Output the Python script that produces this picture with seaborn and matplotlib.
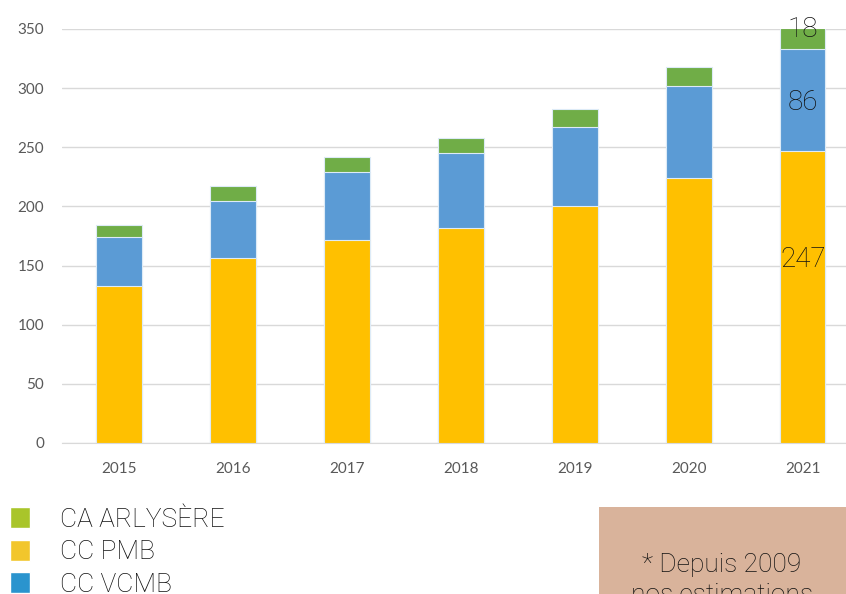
import matplotlib
matplotlib.use("Agg")
import matplotlib.pyplot as plt
from matplotlib.patches import Patch, Rectangle
import pandas as pd
import seaborn as sns

# values
years = ["2015", "2016", "2017", "2018", "2019", "2020", "2021"]
cc_pmb = [133, 156, 172, 182, 200, 224, 247]
cc_vcmb = [41, 49, 57, 63, 67, 78, 86]
ca_arlysere = [10, 12, 13, 13, 15, 16, 18]
legend_labels = ["CA ARLYSÈRE", "CC PMB", "CC VCMB"]
legend_colors = ["#A9C52A", "#F2C62C", "#2A94CE"]
note_lines = ["* Depuis 2009", "nos estimations"]

df = pd.DataFrame({"year": years, "pmb": cc_pmb, "vcmb": cc_vcmb, "arly": ca_arlysere})
df["pmb_vcmb"] = df["pmb"] + df["vcmb"]
df["total"] = df["pmb_vcmb"] + df["arly"]

sns.set_style("white")
plt.rcParams["font.family"] = ["Lato", "DejaVu Sans"]
thin = ["Roboto", "DejaVu Sans"]

fig = plt.figure(figsize=(8.46, 5.94), dpi=100)
ax = fig.add_axes([62 / 846, 151 / 594, 784 / 846, 414 / 594])

# stacked bars drawn as overlaid cumulative bars
bar_kw = dict(width=0.4, saturation=1, edgecolor="#DDEBF7", linewidth=0.8, ax=ax, zorder=3)
sns.barplot(data=df, x="year", y="total", color="#70AD47", **bar_kw)
sns.barplot(data=df, x="year", y="pmb_vcmb", color="#5B9BD5", **bar_kw)
sns.barplot(data=df, x="year", y="pmb", color="#FFC000", **bar_kw)

ax.set_xlim(-0.5, 6.38)
ax.set_ylim(0, 350)
ax.set_yticks(range(0, 351, 50))
ax.set_xlabel("")
ax.set_ylabel("")
ax.grid(axis="y", color="#D9D9D9", linewidth=1)
ax.set_axisbelow(True)
for s in ["top", "right", "left"]:
    ax.spines[s].set_visible(False)
ax.spines["bottom"].set_color("#D9D9D9")
ax.tick_params(axis="both", length=0, labelsize=11, labelcolor="#595959")
ax.tick_params(axis="y", pad=13)
ax.tick_params(axis="x", pad=14)

# data labels on the last bar only
last = len(years) - 1
segs = [
    (cc_pmb[last], cc_pmb[last] / 2, 27),
    (cc_vcmb[last], cc_pmb[last] + cc_vcmb[last] / 2, -1.5),
    (ca_arlysere[last], df["pmb_vcmb"][last] + ca_arlysere[last] / 2, 6.5),
]
for val, yc, off in segs:
    ax.annotate(str(val), (last, yc), xytext=(0, off), textcoords="offset points",
                ha="center", va="center", fontsize=20, color="#111111",
                family=thin, fontweight="light", zorder=5, annotation_clip=False)

# legend with its own swatch colours
handles = [Patch(facecolor=c, label=l) for c, l in zip(legend_colors, legend_labels)]
fig.legend(handles=handles, loc="upper left", bbox_to_anchor=(10 / 846, 1 - 507 / 594),
           frameon=False, prop={"family": thin, "size": 19, "weight": "light"},
           handlelength=0.75, handleheight=0.85, handletextpad=1.15, labelspacing=0.3,
           borderpad=0, borderaxespad=0, labelcolor="#111111")

# note box in the bottom right corner
fig.patches.append(Rectangle((599 / 846, 0), 247 / 846, 87 / 594, transform=fig.transFigure,
                             facecolor="#D9B39B", edgecolor="none"))
fig.text(722 / 846, 1 - 553 / 594, "\n".join(note_lines), ha="center", va="top",
         fontsize=19, family=thin, fontweight="light", color="#111111", linespacing=1.3)

fig.savefig("out.png", dpi=100)
